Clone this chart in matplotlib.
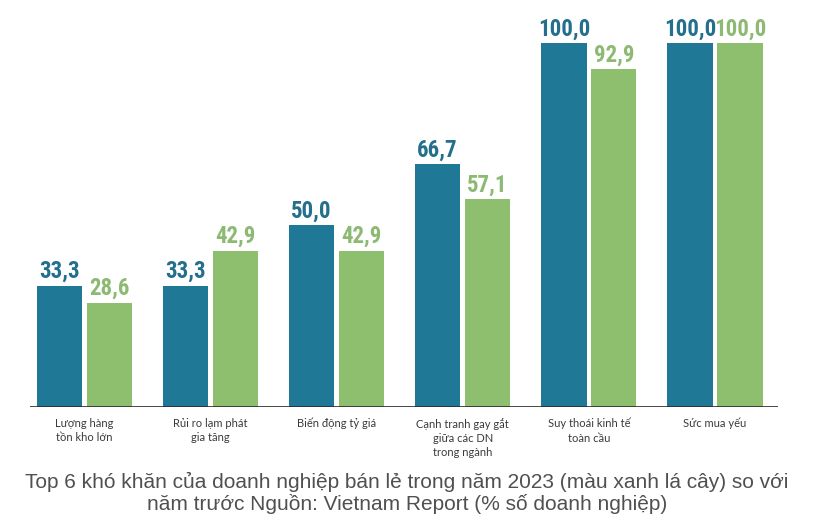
import matplotlib.pyplot as plt
from matplotlib import font_manager
import numpy as np

categories = ["Lượng hàng\ntồn kho lớn", "Rủi ro lạm phát\ngia tăng", "Biến động tỷ giá",
              "Cạnh tranh gay gắt\ngiữa các DN\ntrong ngành", "Suy thoái kinh tế\ntoàn cầu", "Sức mua yếu"]
prev_year = [33.3, 33.3, 50.0, 66.7, 100.0, 100.0]
year_2023 = [28.6, 42.9, 42.9, 57.1, 92.9, 100.0]

blue = "#1f7896"
green = "#8dbf6f"
blue_txt = "#236f8c"
green_txt = "#8cba72"

# condensed font for the value labels if there is one
names = {f.name for f in font_manager.fontManager.ttflist}
if "Roboto Condensed" in names:
    vfont, vsize, vweight = "Roboto Condensed", 16.5, "bold"
else:
    vfont, vsize, vweight = "Roboto", 13.5, "bold"

fig = plt.figure(figsize=(8.14, 5.20), dpi=100)
ax = fig.add_axes([30/814, 113/520, 748/814, 400/520])

x = np.arange(len(categories))
w = 0.36
off = 0.198
ax.bar(x - off, prev_year, w, color=blue)
ax.bar(x + off, year_2023, w, color=green)

def fmt(v):
    return f"{v:.1f}".replace(".", ",")

for i in range(len(x)):
    ax.text(x[i] - off, prev_year[i] + 0.8, fmt(prev_year[i]), ha="center", va="bottom",
            color=blue_txt, fontsize=vsize, fontweight=vweight, family=vfont)
    ax.text(x[i] + off, year_2023[i] + 0.8, fmt(year_2023[i]), ha="center", va="bottom",
            color=green_txt, fontsize=vsize, fontweight=vweight, family=vfont)
    ax.text(x[i], -3.0, categories[i], ha="center", va="top", fontsize=8,
            color="#3a3a3a", family="Lato", linespacing=1.35)

ax.set_xlim(-0.43, 5.5)
ax.set_ylim(0, 110)
ax.axhline(0, color="#2a2a2a", lw=1.2)
ax.axis("off")

fig.text(0.5, 1 - 493/520, "Top 6 khó khăn của doanh nghiệp bán lẻ trong năm 2023 (màu xanh lá cây) so với\nnăm trước Nguồn: Vietnam Report (% số doanh nghiệp)",
         ha="center", va="center", fontsize=15, color="#505050", family="Liberation Sans", linespacing=1.1)

fig.savefig("out.png", dpi=100)
